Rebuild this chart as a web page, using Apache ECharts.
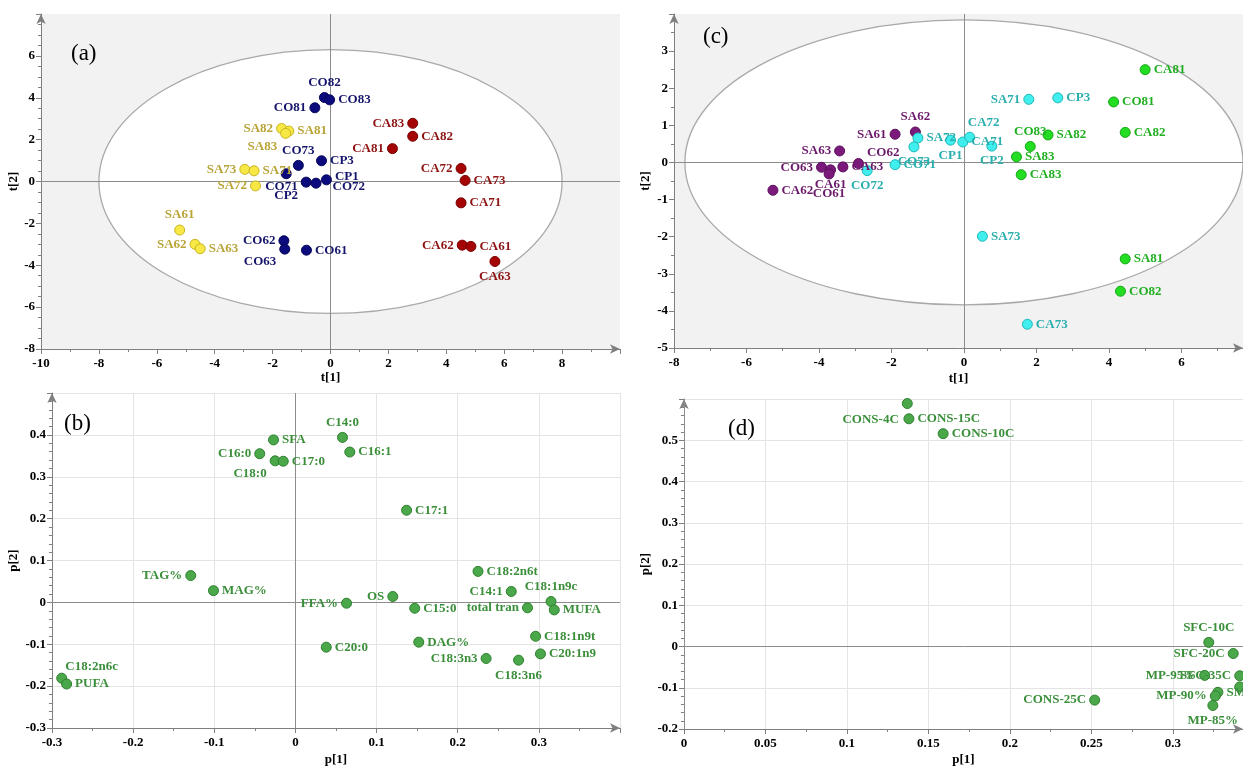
<!DOCTYPE html>
<html><head><meta charset="utf-8">
<script src="https://cdn.jsdelivr.net/npm/echarts@6/dist/echarts.min.js"></script>
<style>html,body{margin:0;padding:0;background:#fff}#c{width:1243px;height:767px}</style>
</head><body><div id="c"></div>
<script>
// ---------- DATA ----------
// Panel (a): scores t[1], t[2]
const aSA = [["SA82",-1.69,2.53],["SA81",-1.44,2.41],["SA83",-1.55,2.30],["SA73",-2.96,0.58],["SA71",-2.64,0.51],["SA72",-2.59,-0.21],["SA61",-5.21,-2.32],["SA62",-4.68,-3.00],["SA63",-4.50,-3.21]];
const aCO = [["CO81",-0.54,3.52],["CO82",-0.21,4.01],["CO83",-0.03,3.90],["CO73",-1.11,0.77],["CP3",-0.31,0.99],["CP2",-1.53,0.37],["CO71",-0.84,-0.03],["CO72",-0.50,-0.08],["CP1",-0.14,0.08],["CO62",-1.61,-2.83],["CO63",-1.58,-3.23],["CO61",-0.83,-3.28]];
const aCA = [["CA83",2.84,2.78],["CA82",2.84,2.16],["CA81",2.14,1.57],["CA72",4.51,0.62],["CA73",4.65,0.05],["CA71",4.51,-1.02],["CA62",4.55,-3.04],["CA61",4.85,-3.10],["CA63",5.68,-3.82]];
// Panel (c): scores t[1], t[2]
const cG6 = [["SA62",-1.34,0.82],["SA61",-1.90,0.76],["SA63",-3.43,0.31],["CO62",-2.91,-0.03],["CA63",-3.34,-0.12],["CO63",-3.93,-0.13],["CA61",-3.68,-0.20],["CO61",-3.72,-0.31],["CA62",-5.27,-0.75]];
const cG7 = [["SA71",1.79,1.70],["CP3",2.59,1.74],["SA72",-1.27,0.66],["CO73",-1.38,0.42],["CO71",-1.90,-0.06],["CO72",-2.67,-0.22],["CP1",-0.37,0.60],["CA71",-0.03,0.55],["CA72",0.16,0.68],["CP2",0.77,0.44],["SA73",0.51,-1.99],["CA73",1.75,-4.36]];
const cG8 = [["CA81",5.00,2.50],["CO81",4.13,1.63],["CA82",4.45,0.81],["SA82",2.32,0.74],["CO83",1.83,0.43],["SA83",1.45,0.15],["CA83",1.58,-0.33],["SA81",4.45,-2.60],["CO82",4.32,-3.47]];
// Panel (b): loadings p[1], p[2]
const bVars = [["SFA",-0.027,0.388],["C16:0",-0.044,0.355],["C18:0",-0.025,0.338],["C17:0",-0.015,0.337],["TAG%",-0.129,0.064],["MAG%",-0.101,0.028],["C18:2n6c",-0.288,-0.181],["PUFA",-0.282,-0.195],["C14:0",0.058,0.394],["C16:1",0.067,0.359],["C17:1",0.137,0.220],["C18:2n6t",0.225,0.074],["C14:1",0.266,0.026],["OS",0.120,0.014],["FFA%",0.063,-0.002],["C15:0",0.147,-0.014],["total tran",0.286,-0.013],["C18:1n9c",0.315,0.002],["MUFA",0.319,-0.018],["C18:1n9t",0.296,-0.081],["C20:1n9",0.302,-0.123],["DAG%",0.152,-0.095],["C18:3n3",0.235,-0.134],["C18:3n6",0.275,-0.138],["C20:0",0.038,-0.107]];
// Panel (d): loadings p[1], p[2]
const dVars = [["CONS-4C",0.137,0.589],["CONS-15C",0.138,0.552],["CONS-10C",0.159,0.516],["SFC-10C",0.322,0.010],["SFC-20C",0.337,-0.017],["MP-95%",0.3195,-0.070],["SFC-35C",0.341,-0.071],["SFC-25C",0.341,-0.098],["SMP",0.3276,-0.111],["MP-90%",0.326,-0.120],["MP-85%",0.3245,-0.143],["CONS-25C",0.252,-0.130]];
// Hotelling T2 ellipses: [centre t1, centre t2, semi-axis t1, semi-axis t2]
const ellipseA = [0, 0, 8.0, 6.3];
const ellipseC = [0, 0, 7.7, 3.84];
const panelTitles = ["(a)", "(b)", "(c)", "(d)"];

// ---------- LABEL PLACEMENT (style) ----------
const labelPos = {
  a: {SA82:['left'],SA81:['right'],SA83:['left',0,13],SA73:['left'],SA71:['right'],SA72:['left'],SA61:['top'],SA62:['left'],SA63:['right'],
      CO81:['left'],CO82:['top'],CO83:['right'],CO73:['top'],CP3:['right'],CP2:['bottom',0,7],CO71:['left',0,5],CO72:['right',8,3],CP1:['right',0,-3],
      CO62:['left'],CO63:['left',0,13],CO61:['right'],
      CA83:['left'],CA82:['right'],CA81:['left'],CA72:['left'],CA73:['right'],CA71:['right'],CA62:['left'],CA61:['right'],CA63:['bottom']},
  c: {SA62:['top'],SA61:['left'],SA63:['left'],CO62:['right',0,-11],CA63:['right'],CO63:['left'],CA61:['bottom'],CO61:['bottom',0,5],CA62:['right'],
      SA71:['left'],CP3:['right'],SA72:['right'],CO73:['bottom'],CO71:['right'],CO72:['bottom'],CP1:['bottom'],CA71:['right'],CA72:['top',14,0],CP2:['bottom'],SA73:['right'],CA73:['right'],
      CO83:['top']},
  b: {SFA:['right'],'C16:0':['left'],'C18:0':['left',0,13],'C17:0':['right'],'TAG%':['left'],'MAG%':['right'],'C18:2n6c':['right',-5,-12],PUFA:['right'],
      'C14:0':['top'],'C16:1':['right'],'C17:1':['right'],'C18:2n6t':['right'],'C14:1':['left'],OS:['left'],'FFA%':['left'],'C15:0':['right'],
      'total tran':['left'],'C18:1n9c':['top'],MUFA:['right'],'C18:1n9t':['right'],'C20:1n9':['right'],'DAG%':['right'],'C18:3n3':['left'],'C18:3n6':['bottom'],'C20:0':['right']},
  d: {'CONS-4C':['left',0,16],'CONS-15C':['right'],'CONS-10C':['right'],'SFC-10C':['top'],'SFC-20C':['left'],'MP-95%':['left'],'SFC-35C':['left'],
      'SFC-25C':['right'],SMP:['right'],'MP-90%':['left'],'MP-85%':['bottom'],'CONS-25C':['left']}
};

const SERIF = "'Liberation Serif','Times New Roman',serif";

function pts(arr, panel) {
  return arr.map(d => {
    const lp = labelPos[panel][d[0]] || ['right'];
    return {name: d[0], value: [d[1], d[2]], label: {position: lp[0], offset: [lp[1] || 0, lp[2] || 0]}};
  });
}

function scatter(gi, arr, panel, fill, stroke, labelColor, withZero) {
  const s = {
    type: 'scatter', xAxisIndex: gi, yAxisIndex: gi, z: 5,
    symbolSize: 10,
    itemStyle: {color: fill, borderColor: stroke, borderWidth: 1, opacity: 1},
    label: {show: true, formatter: '{b}', color: labelColor, fontFamily: SERIF, fontWeight: 'bold', fontSize: 13, distance: 3},
    emphasis: {disabled: true},
    data: pts(arr, panel)
  };
  if (withZero) {
    s.markLine = {silent: true, symbol: 'none', z: 2, label: {show: false},
      lineStyle: {color: '#8c8c8c', width: 1, type: 'solid'},
      data: [{xAxis: 0}, {yAxis: 0}]};
  }
  return s;
}

function ellipse(gi, e) {
  return {
    type: 'custom', xAxisIndex: gi, yAxisIndex: gi, z: 1, silent: true,
    data: [e],
    renderItem: function (params, api) {
      const c = api.coord([api.value(0), api.value(1)]);
      const s = api.size([api.value(2), api.value(3)]);
      return {type: 'ellipse', shape: {cx: c[0], cy: c[1], rx: s[0], ry: s[1]},
        style: {fill: '#ffffff', stroke: '#a9a9a9', lineWidth: 1.3}};
    }
  };
}

const tickLabel = {color: '#000', fontFamily: SERIF, fontWeight: 'bold', fontSize: 13, showMaxLabel: false};
const axLine = {show: true, onZero: false, symbol: ['none', 'arrow'], symbolSize: [7, 10], lineStyle: {color: '#7f7f7f', width: 1}};

function xAx(gi, min, max, interval, name, gap, minorSplit, split) {
  return {type: 'value', gridIndex: gi, min, max, interval, name, nameLocation: 'middle', nameGap: gap,
    nameTextStyle: {color: '#000', fontFamily: SERIF, fontWeight: 'bold', fontSize: 13},
    axisLine: axLine, axisTick: {show: true, length: 5, lineStyle: {color: '#7f7f7f'}},
    minorTick: {show: true, splitNumber: minorSplit, length: 3, lineStyle: {color: '#7f7f7f'}},
    axisLabel: Object.assign({margin: 8}, tickLabel),
    splitLine: {show: split, lineStyle: {color: '#e4e4e4'}}};
}
function yAx(gi, min, max, interval, name, gap, minorSplit, split) {
  return {type: 'value', gridIndex: gi, min, max, interval, name, nameLocation: 'middle', nameGap: gap, nameRotate: 90,
    nameTextStyle: {color: '#000', fontFamily: SERIF, fontWeight: 'bold', fontSize: 13},
    axisLine: axLine, axisTick: {show: true, length: 5, lineStyle: {color: '#7f7f7f'}},
    minorTick: {show: true, splitNumber: minorSplit, length: 3, lineStyle: {color: '#7f7f7f'}},
    axisLabel: Object.assign({margin: 6}, tickLabel),
    splitLine: {show: split, lineStyle: {color: '#e4e4e4'}}};
}

const chart = echarts.init(document.getElementById('c'), null, {renderer: 'canvas'});
const option = {
  animation: false,
  backgroundColor: '#ffffff',
  title: [
    {text: panelTitles[0], left: 71, top: 42, padding: 0, textStyle: {fontFamily: SERIF, fontWeight: 'normal', fontSize: 23, color: '#000'}},
    {text: panelTitles[1], left: 64, top: 412, padding: 0, textStyle: {fontFamily: SERIF, fontWeight: 'normal', fontSize: 23, color: '#000'}},
    {text: panelTitles[2], left: 703, top: 25, padding: 0, textStyle: {fontFamily: SERIF, fontWeight: 'normal', fontSize: 23, color: '#000'}},
    {text: panelTitles[3], left: 728, top: 417, padding: 0, textStyle: {fontFamily: SERIF, fontWeight: 'normal', fontSize: 23, color: '#000'}}
  ],
  grid: [
    {left: 41, top: 14, width: 579, height: 335, show: true, backgroundColor: '#f2f2f2', borderWidth: 0},
    {left: 52, top: 393, width: 568, height: 335, show: false},
    {left: 674, top: 14, width: 569, height: 334, show: true, backgroundColor: '#f2f2f2', borderWidth: 0},
    {left: 684, top: 399, width: 559, height: 334, show: false}
  ],
  xAxis: [
    xAx(0, -10, 10, 2, 't[1]', 22, 2, false),
    xAx(1, -0.3, 0.4, 0.1, 'p[1]', 25, 2, true),
    xAx(2, -8, 7.7, 2, 't[1]', 24, 2, false),
    xAx(3, 0, 0.343, 0.05, 'p[1]', 24, 2, true)
  ],
  yAxis: [
    yAx(0, -8, 8, 2, 't[2]', 18, 4, false),
    yAx(1, -0.3, 0.5, 0.1, 'p[2]', 32, 5, true),
    yAx(2, -5, 4, 1, 't[2]', 22, 2, false),
    yAx(3, -0.2, 0.6, 0.1, 'p[2]', 32, 5, true)
  ],
  series: [
    ellipse(0, ellipseA),
    scatter(0, aSA, 'a', '#f8e845', '#c9b520', '#b9a437', true),
    scatter(0, aCO, 'a', '#0b0b7e', '#06065a', '#15156c', false),
    scatter(0, aCA, 'a', '#a50404', '#7a0000', '#8e1414', false),
    scatter(1, bVars, 'b', '#4aa84a', '#2f7f2f', '#3b8f3b', true),
    ellipse(2, ellipseC),
    scatter(2, cG6, 'c', '#7c1a7c', '#5a0f5a', '#6b1a6b', true),
    scatter(2, cG7, 'c', '#40eeee', '#20b8b8', '#2aaeae', false),
    scatter(2, cG8, 'c', '#22dd22', '#14a814', '#22b022', false),
    scatter(3, dVars, 'd', '#4aa84a', '#2f7f2f', '#3b8f3b', true)
  ]
};
chart.setOption(option);
</script>
</body></html>
